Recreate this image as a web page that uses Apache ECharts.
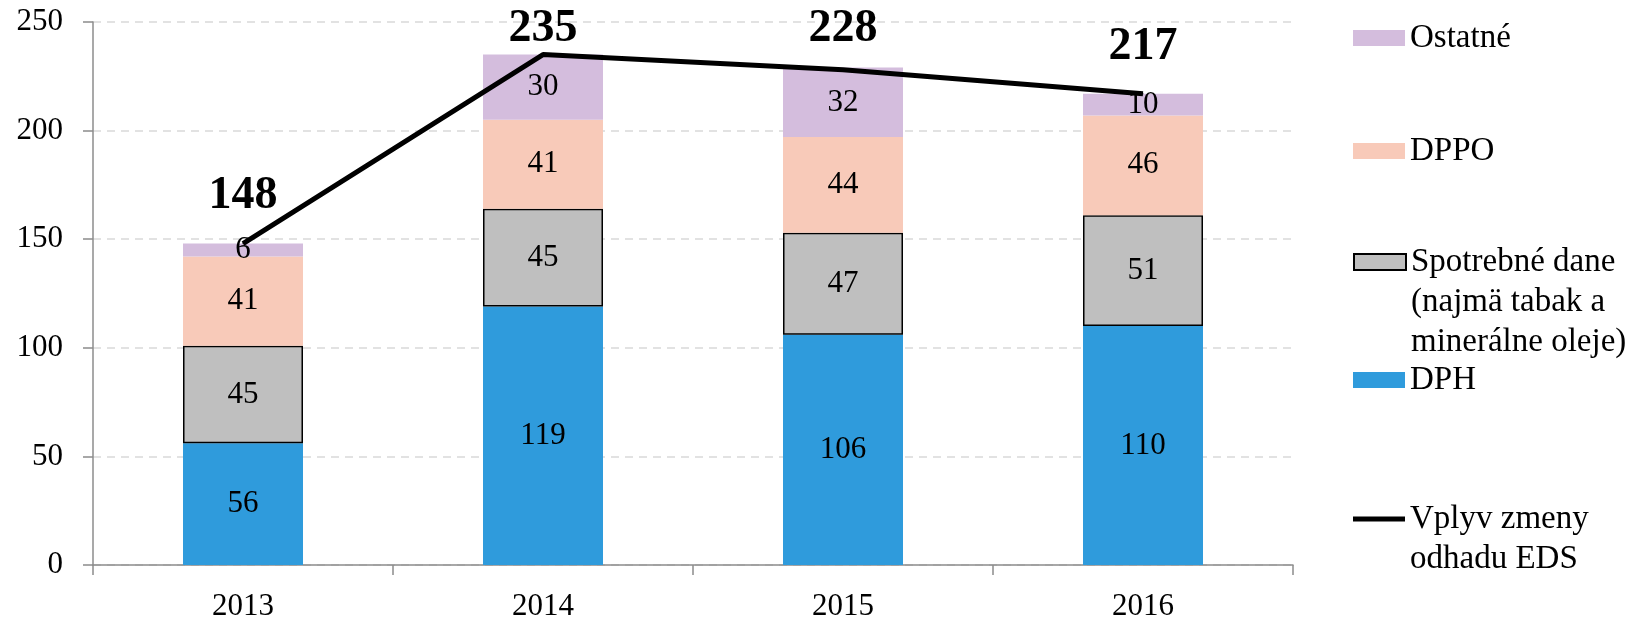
<!DOCTYPE html>
<html>
<head>
    <meta charset="utf-8">
    <script src="https://cdn.jsdelivr.net/npm/echarts@6/dist/echarts.min.js"></script>
</head>
<body style="margin:0">
    <div id="main" style="width:1644px;height:620px;"></div>
</body>
<script type="text/javascript">
    var roky = ['2013', '2014', '2015', '2016'];
    var dph = [56, 119, 106, 110];
    var spotrebne = [45, 45, 47, 51];
    var dppo = [41, 41, 44, 46];
    var ostatne = [6, 30, 32, 10];
    var vplyvEds = [148, 235, 228, 217];

    // odsadenie popisov ciary nad bodom (px)
    var vplyvLift = [24, 2, 17, 23];

    var FONT = '"Liberation Serif", "Times New Roman", serif';
    var SPOTR = 'Spotrebné dane (najmä tabak a minerálne oleje)';
    var VPLYV = 'Vplyv zmeny odhadu EDS';

    var myChart = echarts.init(document.getElementById('main'));

    function barLabel() {
        return {
            show: true,
            position: 'inside',
            color: '#000',
            fontFamily: FONT,
            fontSize: 31
        };
    }

    // jedna legenda na polozku, aby sa dali rozlozit ako v Exceli
    function legendItem(name, top) {
        var isLine = name === VPLYV;
        return {
            data: [name],
            left: 1353,
            top: top,
            padding: 0,
            itemWidth: 52,
            itemHeight: isLine ? 5 : 16,
            icon: 'rect',
            selectedMode: false,
            formatter: function (n) {
                // prazdne riadky hore, aby bola ikona pri prvom riadku
                if (n === SPOTR) return '\n\nSpotrebné dane\n(najmä tabak a\nminerálne oleje)';
                if (n === VPLYV) return '\nVplyv zmeny\nodhadu EDS';
                return n;
            },
            textStyle: {
                color: '#000',
                fontFamily: FONT,
                fontSize: 33,
                lineHeight: 40
            }
        };
    }

    var option = {
        backgroundColor: '#fff',
        animation: false,
        grid: { left: 93, right: 351, top: 22, bottom: 55, outerBoundsMode: 'none' },
        legend: [
            legendItem('Ostatné', 18),
            legendItem('DPPO', 131),
            legendItem(SPOTR, 162),
            legendItem('DPH', 360),
            legendItem(VPLYV, 459)
        ],
        xAxis: {
            type: 'category',
            data: roky,
            axisLine: { lineStyle: { color: '#8c8c8c', width: 1.5 } },
            axisTick: { show: true, length: 10, lineStyle: { color: '#8c8c8c', width: 1.5 } },
            axisLabel: { color: '#000', fontFamily: FONT, fontSize: 31, margin: 26 }
        },
        yAxis: {
            type: 'value',
            min: 0,
            max: 250,
            interval: 50,
            axisLine: { show: true, lineStyle: { color: '#8c8c8c', width: 1.5 } },
            axisTick: { show: true, length: 10, lineStyle: { color: '#8c8c8c', width: 1.5 } },
            axisLabel: { color: '#000', fontFamily: FONT, fontSize: 31, margin: 30 },
            splitLine: { lineStyle: { color: '#d9d9d9', width: 1.5, type: [8, 6] } }
        },
        series: [
            {
                name: 'DPH', type: 'bar', stack: 'dane', barWidth: '40%',
                itemStyle: { color: '#2f9bdc' },
                label: barLabel(),
                data: dph
            },
            {
                name: SPOTR, type: 'bar', stack: 'dane',
                itemStyle: { color: '#bfbfbf', borderColor: '#000', borderWidth: 1.5 },
                label: barLabel(),
                data: spotrebne
            },
            {
                name: 'DPPO', type: 'bar', stack: 'dane',
                itemStyle: { color: '#f8cab9' },
                label: barLabel(),
                data: dppo
            },
            {
                name: 'Ostatné', type: 'bar', stack: 'dane',
                itemStyle: { color: '#d4bddd' },
                label: barLabel(),
                data: ostatne
            },
            {
                name: VPLYV, type: 'line', symbol: 'circle', symbolSize: 1,
                showSymbol: true, z: 5,
                lineStyle: { color: '#000', width: 5 },
                itemStyle: { color: '#000' },
                label: {
                    show: true, position: 'top', color: '#000',
                    fontFamily: FONT, fontSize: 46, fontWeight: 'bold'
                },
                data: vplyvEds.map(function (v, i) {
                    return { value: v, label: { distance: vplyvLift[i] } };
                })
            }
        ]
    };

    myChart.setOption(option);
</script>
</html>
